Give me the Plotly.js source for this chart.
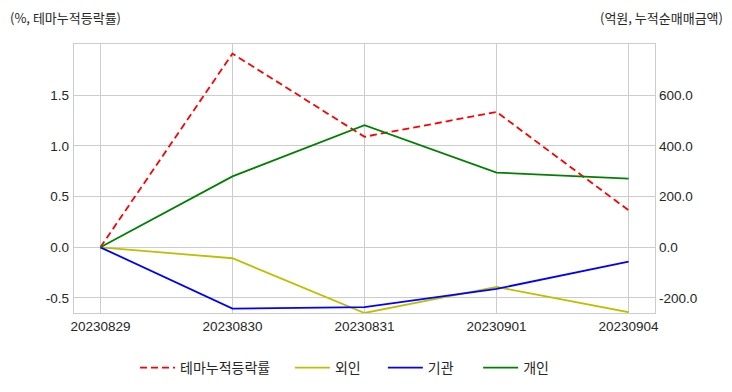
<!DOCTYPE html>
<html>
<head>
<meta charset="utf-8">
<script src="https://cdn.plot.ly/plotly-3.0.1.min.js"></script>
<style>html,body{margin:0;padding:0;background:#fff;}#chart{width:732px;height:392px;}</style>
</head>
<body>
<div id="chart"></div>
<script>
const dates = ["20230829", "20230830", "20230831", "20230901", "20230904"];
const themeReturn = [0.0, 1.91, 1.09, 1.335, 0.365];
const foreign = [0, -43, -259, -156, -256];
const institution = [0, -242, -236, -164, -56];
const individual = [0, 280, 482, 295, 271];

const seriesNames = ["테마누적등락률", "외인", "기관", "개인"];

const font = "'Liberation Sans', Arial, 'Noto Sans CJK KR', sans-serif";
const kfont = "'Noto Sans CJK KR', 'Liberation Sans', sans-serif";

const traces = [
  {x: dates, y: themeReturn, name: seriesNames[0], type: 'scatter', mode: 'lines',
   line: {color: '#ff0000', width: 1.8, dash: '7px,4px'}, yaxis: 'y', legend: 'legend'},
  {x: dates, y: foreign, name: seriesNames[1], type: 'scatter', mode: 'lines',
   line: {color: '#bfbf00', width: 1.8}, yaxis: 'y2', legend: 'legend2'},
  {x: dates, y: institution, name: seriesNames[2], type: 'scatter', mode: 'lines',
   line: {color: '#0000ff', width: 1.8}, yaxis: 'y2', legend: 'legend3'},
  {x: dates, y: individual, name: seriesNames[3], type: 'scatter', mode: 'lines',
   line: {color: '#008000', width: 1.8}, yaxis: 'y2', legend: 'legend4'}
];

function leg(x) {
  return {orientation: 'h', x: x, xanchor: 'left', y: -0.2045, yanchor: 'middle',
          bgcolor: 'rgba(0,0,0,0)',
          font: {family: kfont, size: 14, color: '#262626'}, itemwidth: 35};
}

const layout = {
  width: 732, height: 392,
  margin: {l: 74, r: 77, t: 44, b: 79, autoexpand: false},
  paper_bgcolor: '#ffffff', plot_bgcolor: '#ffffff',
  font: {family: font, size: 12, color: '#262626'},
  showlegend: true,
  legend: leg(0.105),
  legend2: leg(0.3716),
  legend3: leg(0.5316),
  legend4: leg(0.6956),
  xaxis: {type: 'category', range: [-0.2, 4.2], showgrid: true, gridcolor: '#cccccc', gridwidth: 1,
          zeroline: false, showline: true, linecolor: '#cccccc', linewidth: 1.3, mirror: true,
          ticks: '', tickfont: {family: font, size: 13.5, color: '#262626'}, fixedrange: true},
  yaxis: {range: [-0.648, 2.005], tickvals: [-0.5, 0, 0.5, 1.0, 1.5],
          ticktext: ['-0.5', '0.0', '0.5', '1.0', '1.5'],
          showgrid: true, gridcolor: '#cccccc', gridwidth: 1, zeroline: false,
          showline: true, linecolor: '#cccccc', linewidth: 1.3, mirror: true, ticks: '',
          tickfont: {family: font, size: 13.5, color: '#262626'}, ticklabelstandoff: 1},
  yaxis2: {range: [-259, 802], overlaying: 'y', side: 'right',
           tickvals: [-200, 0, 200, 400, 600],
           ticktext: ['-200.0', '0.0', '200.0', '400.0', '600.0'],
           showgrid: false, zeroline: false, showline: false, ticks: '',
           tickfont: {family: font, size: 13.5, color: '#262626'}, ticklabelstandoff: 3},
  annotations: [
    {text: '(%, 테마누적등락률)', xref: 'paper', yref: 'paper', x: -0.113, xanchor: 'left',
     y: 1.1, yanchor: 'middle', showarrow: false, font: {family: kfont, size: 13, color: '#262626'}},
    {text: '(억원, 누적순매매금액)', xref: 'paper', yref: 'paper', x: 1.121, xanchor: 'right',
     y: 1.1, yanchor: 'middle', showarrow: false, font: {family: kfont, size: 13, color: '#262626'}}
  ]
};

Plotly.newPlot('chart', traces, layout, {displayModeBar: false, staticPlot: true});
</script>
</body>
</html>
